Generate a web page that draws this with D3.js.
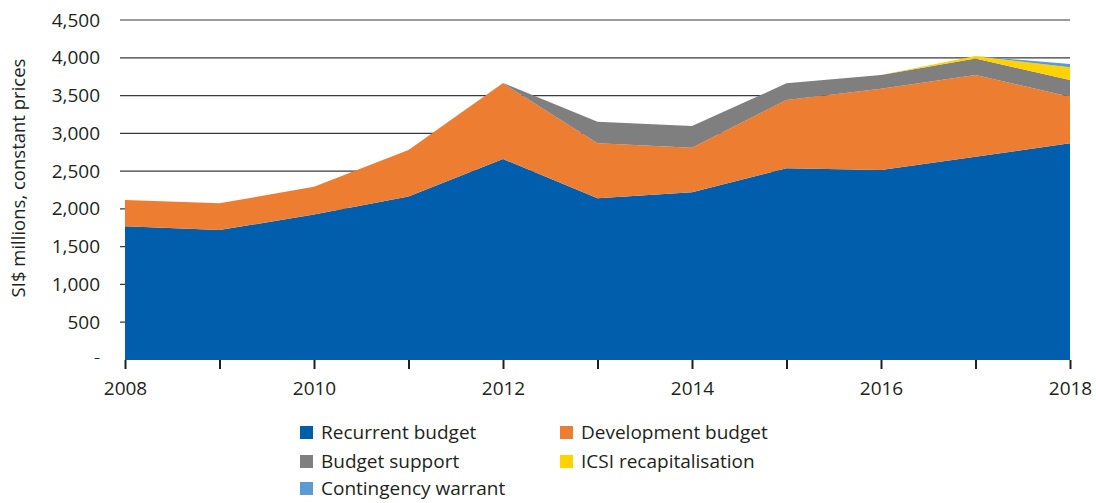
<!DOCTYPE html>
<html>
<head>
<meta charset="utf-8">
<script src="https://cdn.jsdelivr.net/npm/d3@7"></script>
<style>
  html, body { margin: 0; padding: 0; background: #fff; }
  svg { display: block; font-family: "Open Sans", sans-serif; }
</style>
</head>
<body>
<svg id="chart" width="1096" height="503"></svg>
<script>
const years = [2008, 2009, 2010, 2011, 2012, 2013, 2014, 2015, 2016, 2017, 2018];
const recurrentBudget   = [1770, 1720, 1925, 2165, 2660, 2140, 2220, 2537, 2515, 2690, 2870];
const developmentBudget = [348, 354, 369, 615, 1002, 728, 590, 904, 1075, 1082, 615];
const budgetSupport     = [0, 0, 0, 0, 5, 286, 287, 221, 182, 220, 220];
const icsiRecap         = [0, 0, 0, 0, 0, 0, 0, 0, 0, 30, 168];
const contingency       = [0, 0, 0, 0, 0, 0, 0, 0, 0, 0, 44];
const seriesNames  = ["Recurrent budget", "Development budget", "Budget support", "ICSI recapitalisation", "Contingency warrant"];
const seriesColors = ["#005EAD", "#ED7D31", "#7F7F7F", "#FFD200", "#5B9BD5"];
const yTicks = [0, 500, 1000, 1500, 2000, 2500, 3000, 3500, 4000, 4500];
const xTickLabels = [2008, 2010, 2012, 2014, 2016, 2018];
const yLabel = "SI$ millions, constant prices";

const seriesValues = [recurrentBudget, developmentBudget, budgetSupport, icsiRecap, contingency];
const table = years.map((yr, i) => {
  const row = { year: yr };
  seriesNames.forEach((n, k) => row[n] = seriesValues[k][i]);
  return row;
});

const svg = d3.select("#chart");
const mLeft = 125, mRight = 1070, mTop = 20, mBottom = 360;
const fs = 19;

const x = d3.scaleLinear().domain([2008, 2018]).range([mLeft, mRight]);
const y = d3.scaleLinear().domain([0, 4500]).range([mBottom, mTop]);

// gridlines
svg.append("g").selectAll("line")
  .data(yTicks.filter(d => d > 0))
  .join("line")
  .attr("x1", 120).attr("x2", mRight)
  .attr("y1", d => y(d)).attr("y2", d => y(d))
  .attr("stroke", "#3a3a3a").attr("stroke-width", 1.2);

const stacked = d3.stack().keys(seriesNames)(table);
const area = d3.area()
  .x(d => x(d.data.year))
  .y0(d => y(d[0]))
  .y1(d => y(d[1]));

svg.append("g").selectAll("path")
  .data(stacked)
  .join("path")
  .attr("d", area)
  .attr("fill", (d, i) => seriesColors[i]);

// x axis (ticks only)
const xAxis = d3.axisBottom(x)
  .tickValues(years)
  .tickSize(9)
  .tickFormat(d => xTickLabels.includes(d) ? String(d) : "");
const gx = svg.append("g").attr("transform", `translate(0,${mBottom})`).call(xAxis);
gx.select(".domain").remove();
gx.selectAll(".tick line").attr("stroke", "#231f20").attr("stroke-width", 2);
gx.selectAll(".tick text")
  .attr("y", 22)
  .attr("font-size", fs)
  .attr("font-family", "Open Sans, sans-serif")
  .attr("fill", "#231f20");

// y axis labels
const yAxis = d3.axisLeft(y)
  .tickValues(yTicks)
  .tickSize(0)
  .tickPadding(0)
  .tickFormat(d => d === 0 ? "–" : d3.format(",")(d));
const gy = svg.append("g").attr("transform", `translate(100,0)`).call(yAxis);
gy.select(".domain").remove();
gy.selectAll(".tick line").remove();
gy.selectAll(".tick text")
  .attr("font-size", fs)
  .attr("font-family", "Open Sans, sans-serif")
  .attr("fill", "#231f20");
gy.selectAll(".tick text").filter(d => d === 0).attr("font-size", 12).attr("dy", "0.1em");

svg.append("text")
  .attr("transform", `translate(25,${(mTop + mBottom) / 2 - 12}) rotate(-90)`)
  .attr("text-anchor", "middle")
  .attr("font-size", 18.5)
  .attr("fill", "#231f20")
  .text(yLabel);

// legend
const legendPos = [
  [300, 433], [560, 433],
  [300, 462], [560, 462],
  [300, 489]
];
const lg = svg.append("g").selectAll("g")
  .data(seriesNames)
  .join("g")
  .attr("transform", (d, i) => `translate(${legendPos[i][0]},${legendPos[i][1]})`);
lg.append("rect")
  .attr("x", 0).attr("y", -7).attr("width", 13).attr("height", 13)
  .attr("fill", (d, i) => seriesColors[i]);
lg.append("text")
  .attr("x", 21).attr("y", 0).attr("dy", "0.33em")
  .attr("font-size", fs)
  .attr("fill", "#231f20")
  .text(d => d);
</script>
</body>
</html>
